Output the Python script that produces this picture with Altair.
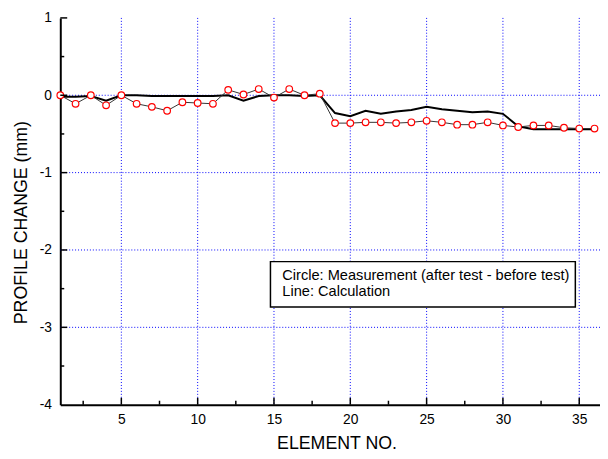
import altair as alt
import pandas as pd

elements = list(range(1, 37))
measured = [0.00, -0.11, 0.00, -0.13, 0.00, -0.11, -0.15, -0.20, -0.09, -0.10, -0.11, 0.07,
            0.01, 0.08, -0.03, 0.08, 0.00, 0.02, -0.36, -0.36, -0.35, -0.35, -0.36, -0.35,
            -0.33, -0.35, -0.38, -0.38, -0.35, -0.39, -0.41, -0.39, -0.39, -0.42, -0.43, -0.43]
calculated = [-0.02, -0.02, -0.01, -0.07, 0.00, 0.00, -0.01, -0.01, -0.01, -0.01, -0.01, 0.00,
              -0.07, -0.01, 0.00, 0.00, -0.01, 0.00, -0.23, -0.27, -0.20, -0.24, -0.21, -0.19,
              -0.15, -0.18, -0.20, -0.22, -0.21, -0.24, -0.40, -0.44, -0.44, -0.44, -0.44, -0.44]

x_labels = [5, 10, 15, 20, 25, 30, 35]
x_minor = [2.5, 7.5, 12.5, 17.5, 22.5, 27.5, 32.5]
y_labels = [-4, -3, -2, -1, 0, 1]
y_major = [-3, -2, -1, 0, 1]
y_minor = [-3.5, -2.5, -1.5, -0.5, 0.5]
x_grid = [5, 10, 15, 20, 25, 30, 35]
y_grid = [-3, -2, -1, 0]
legend_lines = ["Circle: Measurement (after test - before test)", "Line: Calculation"]

FONT = "Liberation Sans"
W, H = 547, 392

df = pd.DataFrame({"element": elements, "measured": measured, "calculated": calculated})

xscale = alt.Scale(domain=[1, 36.36], nice=False, zero=False)
yscale = alt.Scale(domain=[-4, 1], nice=False, zero=False)

x_axis = alt.Axis(values=x_labels, labelExpr="datum.value + ''", ticks=False, grid=False,
                  domainColor="black", domainWidth=2,
                  labelFont=FONT, labelFontSize=14, labelColor="black", labelPadding=8,
                  title="ELEMENT NO.", titleFont=FONT, titleFontSize=18, titleFontWeight="normal",
                  titleColor="black", titlePadding=8, titleX=280, labelFlush=False)
y_axis = alt.Axis(values=y_labels, labelExpr="datum.value + ''", ticks=False, grid=False,
                  domainColor="black", domainWidth=2,
                  labelFont=FONT, labelFontSize=14, labelColor="black", labelPadding=9,
                  title="PROFILE CHANGE (mm)", titleFont=FONT, titleFontSize=18, titleFontWeight="normal",
                  titleColor="black", titlePadding=9, titleY=207, labelFlush=False)

base = alt.Chart(df)

calc_line = base.mark_line(color="black", strokeWidth=2).encode(
    x=alt.X("element:Q", scale=xscale, axis=x_axis),
    y=alt.Y("calculated:Q", scale=yscale, axis=y_axis),
)
meas_line = base.mark_line(color="#333333", strokeWidth=1).encode(
    x=alt.X("element:Q", scale=xscale),
    y=alt.Y("measured:Q", scale=yscale),
)
meas_pts = base.mark_point(shape="circle", size=45, filled=False, fill="white", fillOpacity=1,
                           stroke="#ff0000", strokeWidth=1.2, opacity=1).encode(
    x=alt.X("element:Q", scale=xscale),
    y=alt.Y("measured:Q", scale=yscale),
)

gx = alt.Chart(pd.DataFrame({"v": x_grid})).mark_rule(color="#0000ff", strokeWidth=1, strokeDash=[1, 2]).encode(
    x=alt.X("v:Q", scale=xscale))
gy = alt.Chart(pd.DataFrame({"v": y_grid})).mark_rule(color="#0000ff", strokeWidth=1, strokeDash=[1, 2]).encode(
    y=alt.Y("v:Q", scale=yscale))

tx_major = alt.Chart(pd.DataFrame({"v": x_labels})).mark_rule(color="black", strokeWidth=1.5).encode(
    x=alt.X("v:Q", scale=xscale), y=alt.value(H), y2=alt.value(H - 7))
tx_minor = alt.Chart(pd.DataFrame({"v": x_minor})).mark_rule(color="black", strokeWidth=1.5).encode(
    x=alt.X("v:Q", scale=xscale), y=alt.value(H), y2=alt.value(H - 4))
ty_major = alt.Chart(pd.DataFrame({"v": y_major})).mark_rule(color="black", strokeWidth=1.5).encode(
    y=alt.Y("v:Q", scale=yscale), x=alt.value(0), x2=alt.value(7))
ty_minor = alt.Chart(pd.DataFrame({"v": y_minor})).mark_rule(color="black", strokeWidth=1.5).encode(
    y=alt.Y("v:Q", scale=yscale), x=alt.value(0), x2=alt.value(4))

box = alt.Chart(pd.DataFrame({"t": ["box"]})).mark_rect(fill="white", stroke="black", strokeWidth=1.5).encode(
    x=alt.value(213), x2=alt.value(522), y=alt.value(247), y2=alt.value(293))
leg1 = alt.Chart(pd.DataFrame({"t": legend_lines[:1]})).mark_text(
    align="left", baseline="middle", font=FONT, fontSize=14.8, color="black").encode(
    x=alt.value(225), y=alt.value(262), text="t:N")
leg2 = alt.Chart(pd.DataFrame({"t": legend_lines[1:]})).mark_text(
    align="left", baseline="middle", font=FONT, fontSize=14.8, color="black").encode(
    x=alt.value(225), y=alt.value(278), text="t:N")

chart = alt.layer(gx, gy, calc_line, meas_line, meas_pts, tx_major, tx_minor, ty_major, ty_minor,
                  box, leg1, leg2).properties(
    width=W, height=H,
    autosize=alt.AutoSizeParams(type="none"),
    padding={"left": 53, "top": 7, "right": 0, "bottom": 52},
    background="white",
).configure_view(strokeWidth=0)

chart.save("out.html", embed_options={"renderer": "svg", "actions": False})
